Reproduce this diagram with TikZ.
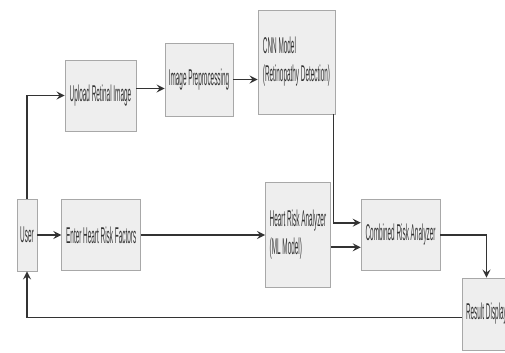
\documentclass[tikz,border=0pt]{standalone}
\usepackage{fontspec}
\usepackage{tikz}
\usetikzlibrary{shapes,arrows,positioning}
\newfontfamily\boxfont[FakeStretch=0.28]{Liberation Sans}
\definecolor{boxfill}{HTML}{EEEEEE}
\definecolor{boxline}{HTML}{A8A8A8}
\definecolor{inkgray}{HTML}{333333}
\tikzset{block/.style={rectangle,fill=boxfill,draw=boxline,thin,minimum width=1.58cm,minimum height=1.42cm,inner sep=0pt,text=inkgray,font=\boxfont\fontsize{13}{16}\selectfont},align=left}
\tikzstyle{arrow} = [line width=1pt,draw=inkgray,->,>=stealth]

\begin{document}
\begin{tikzpicture}
  \clip (0,0) rectangle (10.1,7.04);
  \fill[white] (0,0) rectangle (10.1,7.04);

    \node[block,minimum width=0.4cm,minimum height=1.44cm] (user) at (0.54,2.34) {User};
    \node[block] (enter) [right=0.48cm of user] {Enter Heart Risk Factors};
    \node[block,minimum width=1.30cm,minimum height=2.10cm] (heart) [right=2.48cm of enter] {Heart Risk Analyzer\\(ML Model)};
    \node[block] (comb) [right=0.6cm of heart] {Combined Risk Analyzer};
    \node[block,minimum width=0.98cm,minimum height=1.44cm] (result) at (9.73,0.76) {Result Display};

    \node[block,minimum width=1.42cm] (upload) at (2.01,5.13) {Upload Retinal Image};
    \node[block,minimum width=1.36cm,minimum height=1.46cm] (prep) at (3.98,5.45) {Image Preprocessing};
    \node[block,minimum width=1.54cm,minimum height=2.08cm] (cnn) at (5.93,5.80) {CNN Model\\(Retinopathy Detection)};

    \draw [arrow] (user.north) |- (upload.west);
    \draw [arrow] ([yshift=4pt]upload.east) -- ([yshift=4pt]upload.east -| prep.west);
    \draw [arrow] (prep.east) -- (prep.east -| cnn.west);
    \draw [arrow] ([xshift=-1pt]cnn.south east) |- ([yshift=7pt]comb.west);
    \draw [arrow] ([yshift=-7pt]comb.west -| heart.east) -- ([yshift=-7pt]comb.west);
    \draw [arrow] (user) -- (enter);
    \draw [arrow] (enter) -- (heart);
    \draw [arrow] (comb.east) -| (result.north);
    \draw [arrow] ([yshift=-2pt]result.west) -| (user.south);
\end{tikzpicture}
\end{document}
